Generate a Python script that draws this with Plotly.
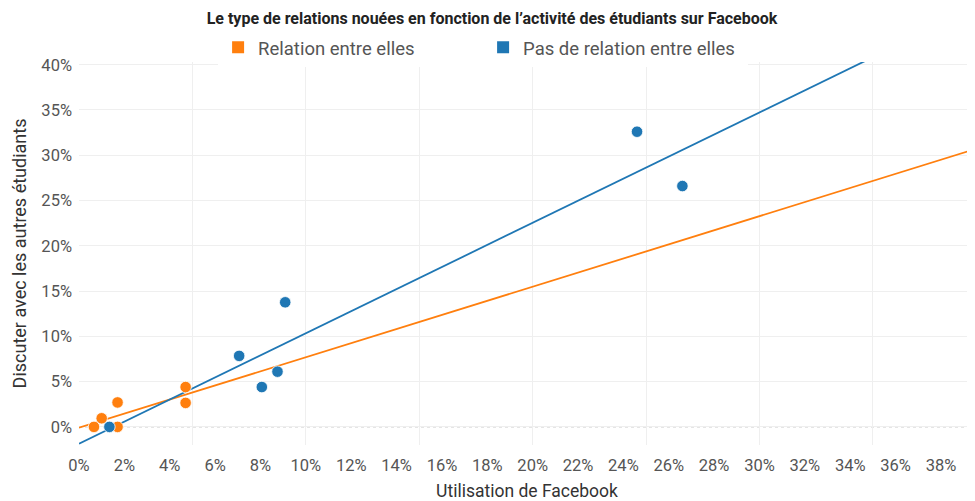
import numpy as np
import plotly.graph_objects as go

# Data (percent units)
rel_x = [0.66, 1.0, 1.7, 1.7, 4.7, 4.7]
rel_y = [0.0, 0.95, 2.7, 0.0, 4.4, 2.65]
pas_x = [1.34, 8.06, 8.75, 7.06, 9.09, 24.6, 26.6]
pas_y = [0.0, 4.4, 6.1, 7.84, 13.76, 32.6, 26.6]

series_names = ["Relation entre elles", "Pas de relation entre elles"]
colors = ["#FF7F0E", "#1F77B4"]

x_range = [0.0, 39.5]
y_range = [-2.0, 40.3]

fig = go.Figure()

series = [(rel_x, rel_y), (pas_x, pas_y)]
for (xs, ys), name, col in zip(series, series_names, colors):
    slope, icpt = np.polyfit(xs, ys, 1)
    tx = np.array(x_range)
    fig.add_trace(go.Scatter(x=tx, y=slope * tx + icpt, mode="lines",
                             line=dict(color=col, width=1.8),
                             showlegend=False, hoverinfo="skip"))
for (xs, ys), name, col in zip(series, series_names, colors):
    fig.add_trace(go.Scatter(x=xs, y=ys, mode="markers", name=name,
                             marker=dict(color=col, size=11.5,
                                         line=dict(color="white", width=0.8)),
                             showlegend=False))
    # legend entries with square symbols
    fig.add_trace(go.Scatter(x=[None], y=[None], mode="markers", name=name,
                             marker=dict(color=col, size=9, symbol="square")))

# invisible trace to create overlay axis for the 5% grid
fig.add_trace(go.Scatter(x=[x_range[0]], y=[0], xaxis="x2", mode="markers",
                         marker=dict(opacity=0), showlegend=False, hoverinfo="skip"))

tick_font = dict(family="Roboto, Open Sans, sans-serif", size=16.5, color="#555555")

# page body has an 8px margin, so the figure is sized to fill the rest of the window
W, H = 967, 493
fig.update_layout(
    width=W, height=H,
    margin=dict(l=71, r=0, t=54, b=56),
    paper_bgcolor="white", plot_bgcolor="white",
    title=dict(text="<b>Le type de relations nouées en fonction de l’activité des étudiants sur Facebook</b>",
               x=(484 / W), xanchor="center", y=1 - 10 / H, yanchor="middle",
               font=dict(family="Roboto, sans-serif", size=16, color="#222222")),
    legend=dict(orientation="h", x=0.451, xanchor="center", y=1.037, yanchor="middle",
                font=dict(family="Roboto, sans-serif", size=18.5, color="#555555"),
                entrywidth=220, entrywidthmode="pixels", itemsizing="constant",
                itemwidth=30),
    xaxis=dict(range=x_range, dtick=2, tick0=0, ticksuffix="%", showgrid=False,
               zeroline=False, showline=False, ticks="", tickfont=tick_font,
               automargin=False, ticklabelstandoff=8,
               title=dict(text="Utilisation de Facebook", standoff=13,
                          font=dict(family="Roboto, sans-serif", size=17.5, color="#333333"))),
    xaxis2=dict(range=x_range, overlaying="x", matches="x", dtick=5, tick0=0,
                showgrid=True, gridcolor="#EFEFEF", gridwidth=1, showticklabels=False,
                zeroline=False, ticks="", automargin=False),
    yaxis=dict(range=y_range, dtick=5, tick0=0, ticksuffix="%", showgrid=True,
               gridcolor="#EFEFEF", zeroline=False, showline=False, ticks="",
               tickfont=tick_font, ticklabelstandoff=6, automargin=False,
               title=dict(text="Discuter avec les autres étudiants", standoff=10,
                          font=dict(family="Roboto, sans-serif", size=18, color="#333333"))),
    shapes=[dict(type="line", xref="paper", x0=0, x1=1, yref="y", y0=0, y1=0,
                 line=dict(color="#BBBBBB", width=1, dash="dot"), layer="below")],
)

fig.write_html("out.html")
